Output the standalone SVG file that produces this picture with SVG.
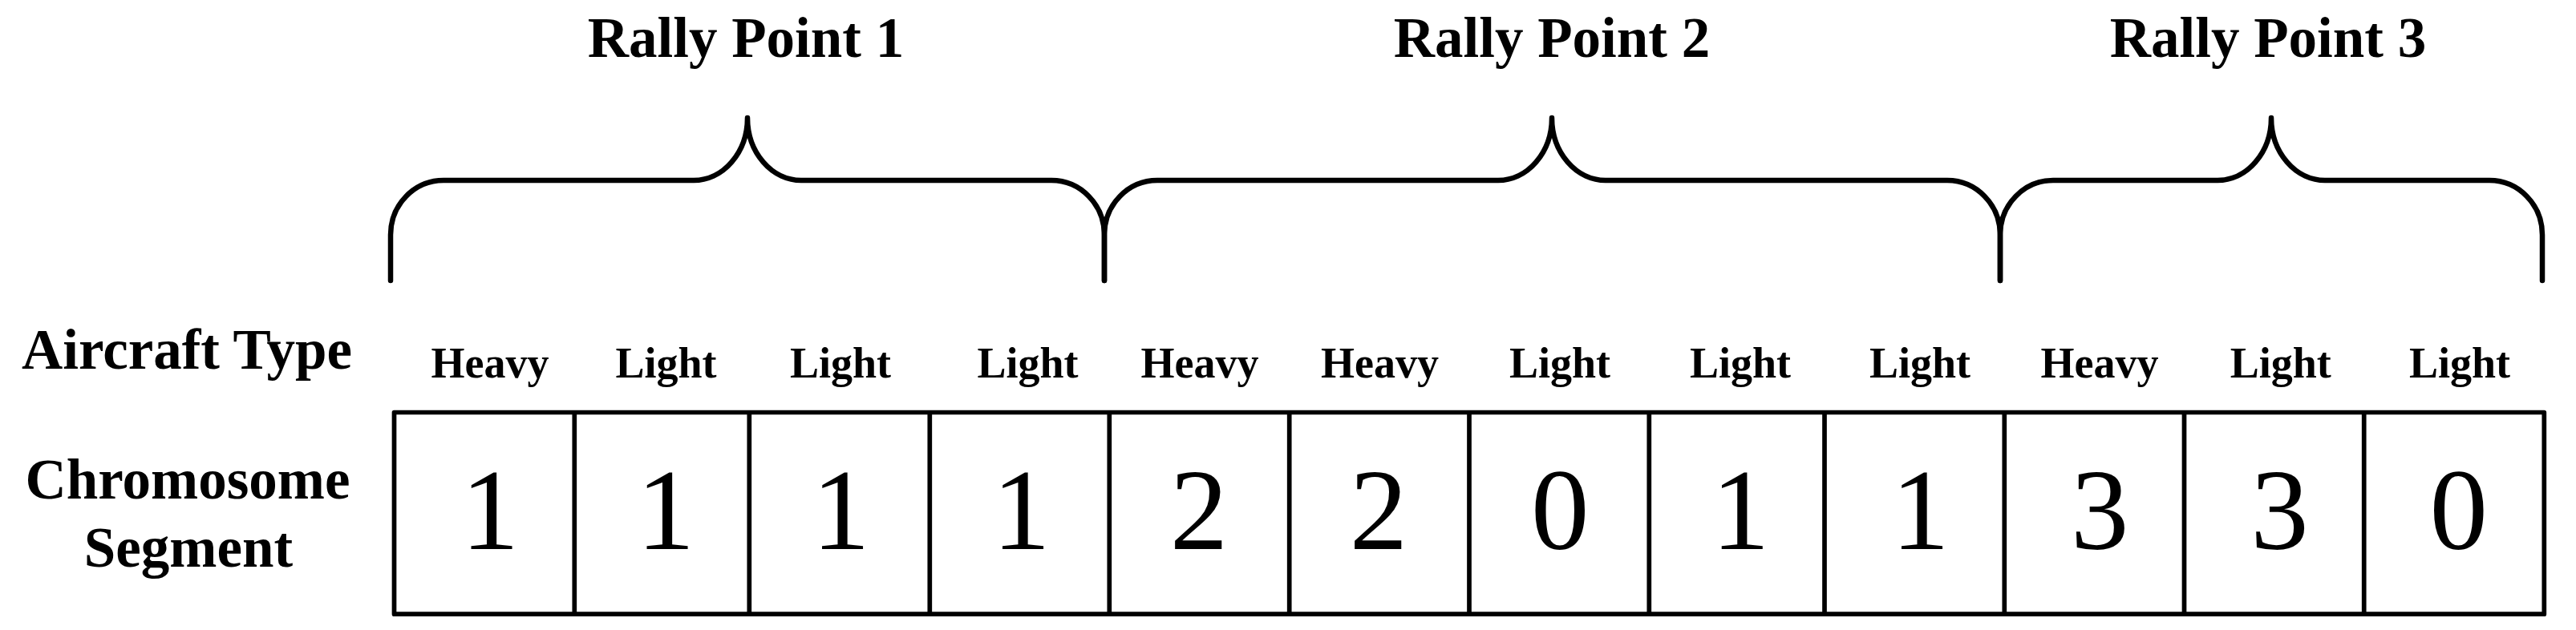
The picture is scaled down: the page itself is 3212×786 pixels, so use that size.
<svg xmlns="http://www.w3.org/2000/svg" width="3212" height="786" viewBox="0 0 3212 786">
  <style>
    .bg { fill: #ffffff; }
    .title { font-family: "Liberation Serif", "Times New Roman", serif; font-weight: bold; font-size: 71px; fill: #000; text-anchor: middle; }
    .type { font-family: "Liberation Serif", "Times New Roman", serif; font-weight: bold; font-size: 54px; fill: #000; text-anchor: middle; }
    .gene { font-family: "Liberation Serif", "Times New Roman", serif; font-size: 145px; fill: #000; text-anchor: middle; }
    .brace { fill: none; stroke: #000; stroke-width: 6.5; stroke-linecap: round; stroke-linejoin: round; }
    .cell { fill: none; stroke: #000; stroke-width: 5.7; stroke-linejoin: round; }
    .div { stroke: #000; stroke-width: 5.7; }
  </style>
  <rect class="bg" x="0" y="0" width="3212" height="786"/>

  <g id="row-titles">
    <text class="title" x="233" y="460">Aircraft Type</text>
    <text class="title" x="234" y="622">Chromosome</text>
    <text class="title" x="235" y="707">Segment</text>
  </g>

  <g id="rally-point-1">
    <text class="title" x="930" y="71">Rally Point 1</text>
  </g>
  <g id="rally-point-2">
    <text class="title" x="1935" y="71">Rally Point 2</text>
  </g>
  <g id="rally-point-3">
    <text class="title" x="2828" y="71">Rally Point 3</text>
  </g>

  <g id="connectors">
    <path class="brace" d="M487,350 V293 A66,68 0 0 1 553,225 H865 A67,78 0 0 0 932,147 A67,78 0 0 0 999,225 H1311 A66,68 0 0 1 1377,293 V350"/>
    <path class="brace" d="M1377,350 V293 A66,68 0 0 1 1443,225 H1868 A67,78 0 0 0 1935,147 A67,78 0 0 0 2002,225 H2428 A66,68 0 0 1 2494,293 V350"/>
    <path class="brace" d="M2494,350 V293 A66,68 0 0 1 2560,225 H2765 A67,78 0 0 0 2832,147 A67,78 0 0 0 2899,225 H3104 A66,68 0 0 1 3170,293 V350"/>
  </g>

  <g id="chromosome">
    <rect class="cell" x="491.5" y="514.5" width="2680.8" height="251.7"/>
    <line class="div" x1="716.3" y1="514.5" x2="716.3" y2="766.2"/>
    <line class="div" x1="934.3" y1="514.5" x2="934.3" y2="766.2"/>
    <line class="div" x1="1159.3" y1="514.5" x2="1159.3" y2="766.2"/>
    <line class="div" x1="1383.3" y1="514.5" x2="1383.3" y2="766.2"/>
    <line class="div" x1="1607.7" y1="514.5" x2="1607.7" y2="766.2"/>
    <line class="div" x1="1832" y1="514.5" x2="1832" y2="766.2"/>
    <line class="div" x1="2056.3" y1="514.5" x2="2056.3" y2="766.2"/>
    <line class="div" x1="2275" y1="514.5" x2="2275" y2="766.2"/>
    <line class="div" x1="2499.3" y1="514.5" x2="2499.3" y2="766.2"/>
    <line class="div" x1="2723.5" y1="514.5" x2="2723.5" y2="766.2"/>
    <line class="div" x1="2947.7" y1="514.5" x2="2947.7" y2="766.2"/>
  </g>

  <g id="gene-1"><text class="type" x="611" y="471">Heavy</text><text class="gene" x="611" y="685">1</text></g>
  <g id="gene-2"><text class="type" x="830.5" y="471">Light</text><text class="gene" x="830" y="685">1</text></g>
  <g id="gene-3"><text class="type" x="1048" y="471">Light</text><text class="gene" x="1048.5" y="685">1</text></g>
  <g id="gene-4"><text class="type" x="1281.5" y="471">Light</text><text class="gene" x="1273.5" y="685">1</text></g>
  <g id="gene-5"><text class="type" x="1496" y="471">Heavy</text><text class="gene" x="1495" y="685">2</text></g>
  <g id="gene-6"><text class="type" x="1720.5" y="471">Heavy</text><text class="gene" x="1719" y="685">2</text></g>
  <g id="gene-7"><text class="type" x="1945" y="471">Light</text><text class="gene" x="1945.3" y="685">0</text></g>
  <g id="gene-8"><text class="type" x="2170" y="471">Light</text><text class="gene" x="2170.3" y="685">1</text></g>
  <g id="gene-9"><text class="type" x="2394" y="471">Light</text><text class="gene" x="2394.5" y="685">1</text></g>
  <g id="gene-10"><text class="type" x="2618" y="471">Heavy</text><text class="gene" x="2618.3" y="685">3</text></g>
  <g id="gene-11"><text class="type" x="2843.7" y="471">Light</text><text class="gene" x="2842.5" y="685">3</text></g>
  <g id="gene-12"><text class="type" x="3067" y="471">Light</text><text class="gene" x="3065.8" y="685">0</text></g>
</svg>
